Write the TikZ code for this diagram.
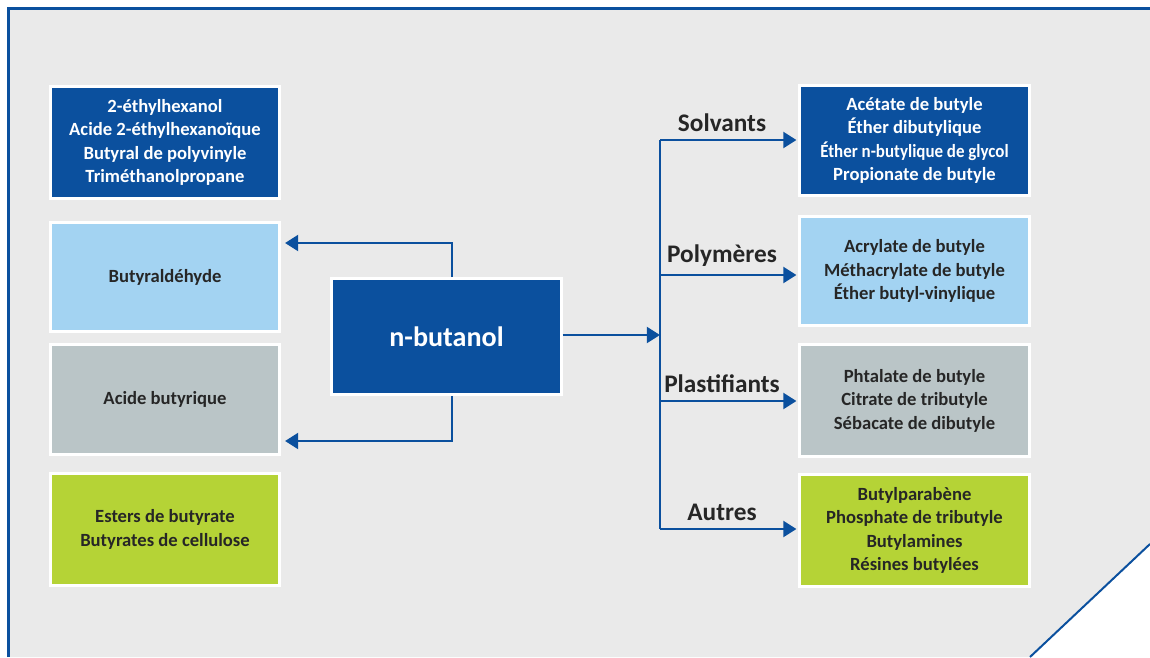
\documentclass[tikz,border=0pt]{standalone}
\usepackage{fontspec}
\setmainfont{Carlito}
\usepackage{graphicx}
\usetikzlibrary{arrows.meta}
\definecolor{dblue}{HTML}{0B509E}
\definecolor{lblue}{HTML}{A3D3F2}
\definecolor{gbox}{HTML}{BAC5C7}
\definecolor{gbox2}{HTML}{B5D336}
\definecolor{bg}{HTML}{EAEAEA}
\definecolor{txt}{HTML}{262626}
\newcommand\pxu{0.5669pt}
\tikzset{
  boxst/.style={rectangle, draw=white, line width=3*\pxu, align=center,
    font=\fontsize{10.6}{13.4}\selectfont\bfseries, text=txt,
    minimum width=230*\pxu, inner sep=0pt},
  lab/.style={font=\fontsize{14.4}{16}\selectfont\bfseries, text=txt},
  arr/.style={draw=dblue, line width=2.8*\pxu, -{Triangle[length=7.5pt,width=9pt]}},
  ln/.style={draw=dblue, line width=2.8*\pxu}
}
\begin{document}
\begin{tikzpicture}[x=0.02cm,y=-0.02cm]
\useasboundingbox (0,0) rectangle (1150,657);
\fill[white] (0,0) rectangle (1150,657);
\fill[bg] (8,657) -- (8,8) -- (1150,8) -- (1150,544) -- (1030,657) -- cycle;
\draw[dblue, line width=3*\pxu] (8.5,657) -- (8.5,8) -- (1150,8);
\draw[dblue, line width=2*\pxu] (1150,544) -- (1030,657);

% left column
\node[boxst, fill=dblue, text=white, minimum height=112*\pxu] (l1) at (165,142.5)
  {2-éthylhexanol\\Acide 2-éthylhexanoïque\\Butyral de polyvinyle\\Triméthanolpropane};
\node[boxst, fill=lblue, minimum height=110*\pxu] (l2) at (165,277) {Butyraldéhyde};
\node[boxst, fill=gbox, minimum height=110*\pxu] (l3) at (165,399.5) {Acide butyrique};
\node[boxst, fill=gbox2, minimum height=112*\pxu] (l4) at (165,529.5)
  {Esters de butyrate\\Butyrates de cellulose};

% centre
\node[boxst, fill=dblue, text=white, minimum height=116*\pxu,
  font=\fontsize{16}{18}\selectfont\bfseries] (nb) at (446.5,336.5) {n-butanol};

% right column
\node[boxst, fill=dblue, text=white, minimum height=110*\pxu] (r1) at (914.5,140.5)
  {Acétate de butyle\\Éther dibutylique\\\scalebox{0.91}[1]{Éther n-butylique de glycol}\\Propionate de butyle};
\node[boxst, fill=lblue, minimum height=109*\pxu] (r2) at (914.5,271)
  {Acrylate de butyle\\Méthacrylate de butyle\\Éther butyl-vinylique};
\node[boxst, fill=gbox, minimum height=112*\pxu] (r3) at (914.5,400.5)
  {Phtalate de butyle\\Citrate de tributyle\\Sébacate de dibutyle};
\node[boxst, fill=gbox2, minimum height=112*\pxu] (r4) at (914.5,530.5)
  {Butylparabène\\Phosphate de tributyle\\Butylamines\\Résines butylées};

% left arrows
\coordinate (ta) at (452,243);
\coordinate (tb) at (452,441);
\draw[arr, shorten >=4*\pxu] (nb.north -| ta) -- (ta) -- (l2.east |- ta);
\draw[arr, shorten >=4*\pxu] (nb.south -| tb) -- (tb) -- (l3.east |- tb);

% right trunk
\coordinate (tr) at (660,335);
\coordinate (s1) at (660,140);
\coordinate (s2) at (660,275);
\coordinate (s3) at (660,401);
\coordinate (s4) at (660,529);
\draw[arr] (nb.east |- tr) -- (tr);
\draw[ln] (s1) -- (s4);
\foreach \s/\r in {s1/r1,s2/r2,s3/r3,s4/r4}
  \draw[arr, shorten >=2*\pxu] (\s) -- (\r.west |- \s);

% labels
\node[lab] (la1) at (722,123) {Solvants};
\node[lab] (la2) at (722,256) {Polymères};
\node[lab] (la3) at (722,384) {Plastifiants};
\node[lab] (la4) at (722,512) {Autres};
\end{tikzpicture}
\end{document}
